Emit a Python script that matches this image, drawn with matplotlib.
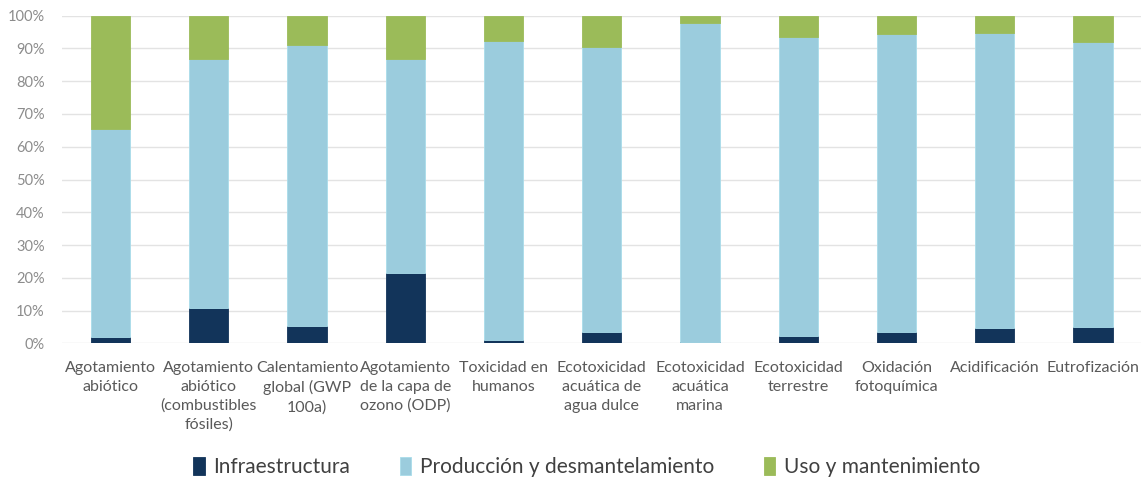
import matplotlib
matplotlib.use("Agg")
import matplotlib.pyplot as plt
import numpy as np
from matplotlib.ticker import FuncFormatter

categories = [
    "Agotamiento\nabiótico",
    "Agotamiento\nabiótico\n(combustibles\nfósiles)",
    "Calentamiento\nglobal (GWP\n100a)",
    "Agotamiento\nde la capa de\nozono (ODP)",
    "Toxicidad en\nhumanos",
    "Ecotoxicidad\nacuática de\nagua dulce",
    "Ecotoxicidad\nacuática\nmarina",
    "Ecotoxicidad\nterrestre",
    "Oxidación\nfotoquímica",
    "Acidificación",
    "Eutrofización",
]
infraestructura = [1.8, 10.7, 5.2, 21.5, 1.0, 3.4, 0.5, 2.1, 3.5, 4.6, 5.0]
produccion_top = [65.3, 86.8, 91.1, 86.8, 92.4, 90.3, 97.7, 93.4, 94.3, 94.6, 92.1]
produccion = [p - i for p, i in zip(produccion_top, infraestructura)]
uso = [100 - p for p in produccion_top]
series_names = ["Infraestructura", "Producción y desmantelamiento", "Uso y mantenimiento"]
colors = ["#12345A", "#9BCCDD", "#9BBB59"]
edge_colors = ["#12345A", "#A9DCEA", "#9BBB59"]

plt.rcParams['font.family'] = ['Lato', 'DejaVu Sans']

fig = plt.figure(figsize=(11.41, 4.83), dpi=100)
ax = fig.add_axes([61.5/1141, 1 - 343.3/483, (1142 - 61.5)/1141, (343.3 - 15.7)/483])

x = np.arange(len(categories))
w = 0.4
b1 = ax.bar(x, infraestructura, w, color=colors[0], edgecolor=edge_colors[0], linewidth=0.6, label=series_names[0], zorder=3)
b2 = ax.bar(x, produccion, w, bottom=infraestructura, color=colors[1], edgecolor=edge_colors[1], linewidth=0.6, label=series_names[1], zorder=3)
b3 = ax.bar(x, uso, w, bottom=produccion_top, color=colors[2], edgecolor=edge_colors[2], linewidth=0.6, label=series_names[2], zorder=3)

ax.set_xlim(-0.5, len(categories) - 0.5)
ax.set_ylim(0, 100)
ax.set_yticks(np.arange(0, 101, 10))
ax.yaxis.set_major_formatter(FuncFormatter(lambda v, p: f"{int(v)}%"))
ax.grid(axis='y', color='#E3E3E3', linewidth=1, zorder=0)
for s in ax.spines.values():
    s.set_visible(False)
ax.tick_params(axis='both', length=0)
ax.tick_params(axis='y', pad=12, labelsize=10.5, labelcolor='#8C8C8C')
ax.set_xticks(x)
ax.set_xticklabels(categories, color='#595959', fontsize=11.5, linespacing=1.42)
ax.tick_params(axis='x', pad=13)

fig.legend(handles=[b1, b2, b3], labels=series_names, loc='center', bbox_to_anchor=(0.514, 0.033),
           ncol=3, frameon=False, fontsize=15, handlelength=0.55, handleheight=0.9,
           handletextpad=0.4, columnspacing=2.4, labelcolor='#404040')

fig.savefig("out.png", dpi=100)
